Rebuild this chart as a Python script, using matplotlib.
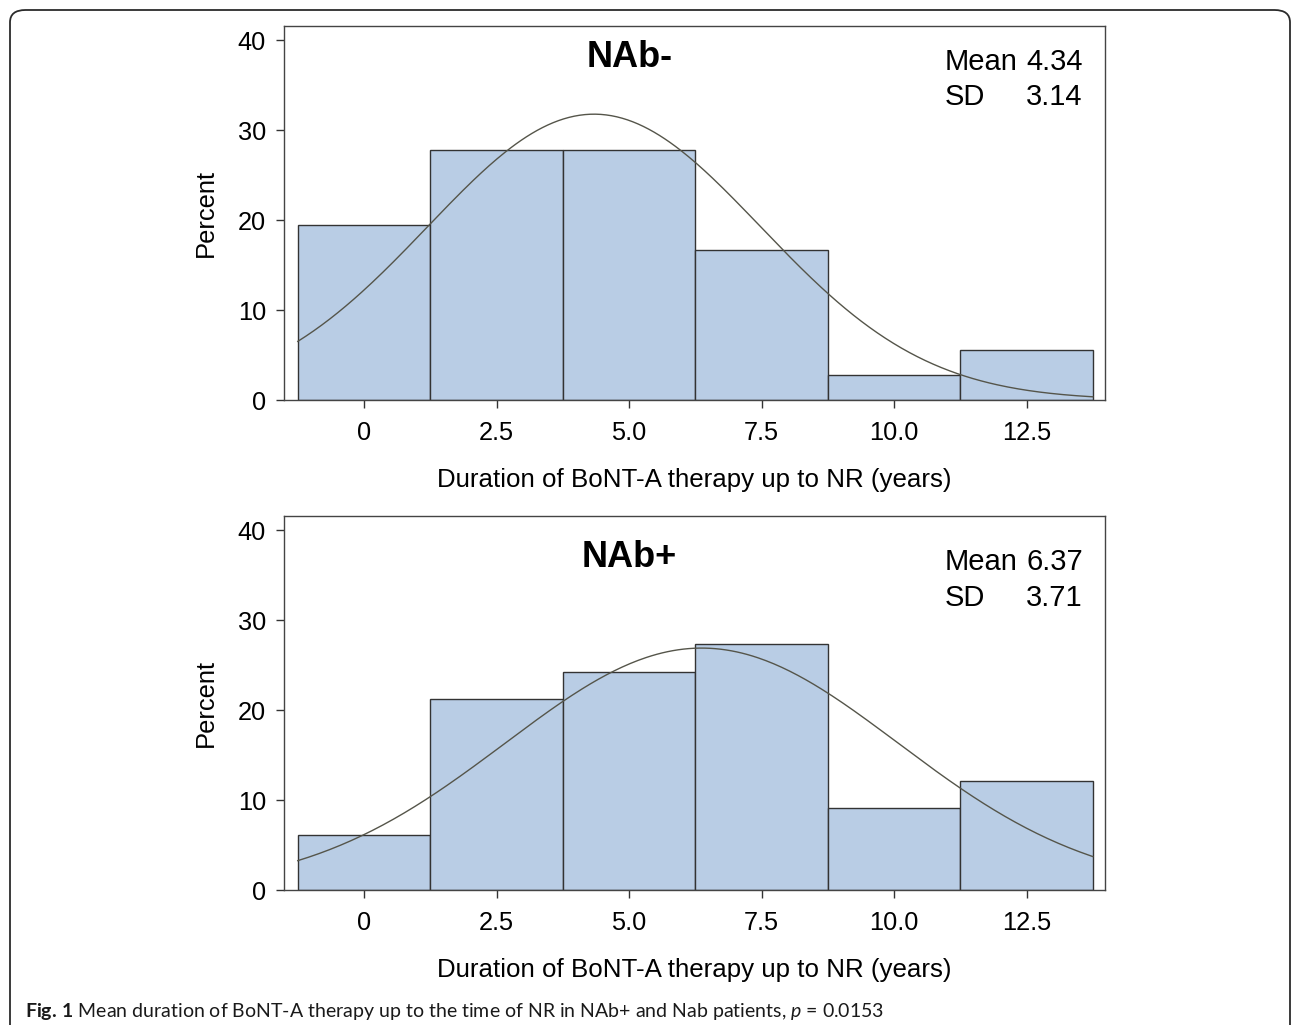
import numpy as np
import matplotlib
matplotlib.use("Agg")
import matplotlib.pyplot as plt
from matplotlib.patches import FancyBboxPatch

# bin centres (years) and percent of patients per bin
bin_centers = [0, 2.5, 5.0, 7.5, 10.0, 12.5]
bin_width = 2.5
pct_nab_neg = [19.4, 27.8, 27.8, 16.7, 2.8, 5.6]
pct_nab_pos = [6.1, 21.2, 24.2, 27.3, 9.1, 12.1]
mean_neg, sd_neg = 4.34, 3.14
mean_pos, sd_pos = 6.37, 3.71
tick_labels = ["0", "2.5", "5.0", "7.5", "10.0", "12.5"]

W, H = 1293, 1025
plt.rcParams['font.family'] = ['Liberation Sans', 'DejaVu Sans']

fig = plt.figure(figsize=(W / 100, H / 100), dpi=100)

# rounded frame round the whole figure
frame = FancyBboxPatch((10 / W, -20 / H), 1280 / W, 1035 / H,
                       boxstyle="round,pad=0,rounding_size=0.012",
                       transform=fig.transFigure, fill=False,
                       edgecolor="#2b2b2b", linewidth=1.3)
fig.patches.append(frame)

bar_col = "#b9cde5"


def panel(rect, pct, mean, sd, title, title_y, mean_y, sd_y):
    ax = fig.add_axes(rect)
    ax.bar(bin_centers, pct, width=bin_width, color=bar_col,
           edgecolor="#333333", linewidth=1.0, zorder=2)
    xs = np.linspace(bin_centers[0] - bin_width / 2, bin_centers[-1] + bin_width / 2, 300)
    ys = 100 * bin_width * np.exp(-0.5 * ((xs - mean) / sd) ** 2) / (sd * np.sqrt(2 * np.pi))
    ax.plot(xs, ys, color="#55554a", linewidth=1.0, zorder=3)
    ax.set_xlim(-1.51, 13.98)
    ax.set_ylim(0, 41.56)
    ax.set_xticks(bin_centers)
    ax.set_xticklabels(tick_labels)
    ax.set_yticks([0, 10, 20, 30, 40])
    ax.tick_params(direction="out", length=6, width=1.0, labelsize=18.3,
                   color="#333333", pad=7)
    ax.tick_params(axis="x", pad=9)
    for s in ax.spines.values():
        s.set_color("#444444")
        s.set_linewidth(1.0)
    ax.set_ylabel("Percent", fontsize=18.4, labelpad=14)
    ax.set_xlabel("Duration of BoNT-A therapy up to NR (years)", fontsize=18.6, labelpad=17)
    ax.text(0.421, title_y, title, transform=ax.transAxes, fontsize=26,
            fontweight="bold", ha="center", va="center")
    ax.text(0.805, mean_y, "Mean", transform=ax.transAxes, fontsize=21, ha="left", va="center")
    ax.text(0.973, mean_y, f"{mean:.2f}", transform=ax.transAxes, fontsize=21, ha="right", va="center")
    ax.text(0.805, sd_y, "SD", transform=ax.transAxes, fontsize=21, ha="left", va="center")
    ax.text(0.973, sd_y, f"{sd:.2f}", transform=ax.transAxes, fontsize=21, ha="right", va="center")
    return ax


left = 284 / W
width = (1105 - 284) / W
height = 374 / H
panel([left, 1 - 400 / H, width, height], pct_nab_neg, mean_neg, sd_neg,
      "NAb-", 0.917, 0.904, 0.810)
panel([left, 1 - 890 / H, width, height], pct_nab_pos, mean_pos, sd_pos,
      "NAb+", 0.890, 0.877, 0.781)

# caption
plt.rcParams['mathtext.fontset'] = 'custom'
plt.rcParams['mathtext.rm'] = 'Lato'
plt.rcParams['mathtext.it'] = 'Lato:italic'
plt.rcParams['mathtext.bf'] = 'Lato:bold'
fig.text(25 / W, 1 - 1011 / H,
         r"$\mathbf{Fig.\!\ 1}$ Mean duration of BoNT-A therapy up to the time of NR in NAb+ and Nab patients, $\mathit{p}$ = 0.0153",
         fontsize=14, family="Lato", ha="left", va="center", color="#1a1a1a")

fig.savefig("out.png", dpi=100)
